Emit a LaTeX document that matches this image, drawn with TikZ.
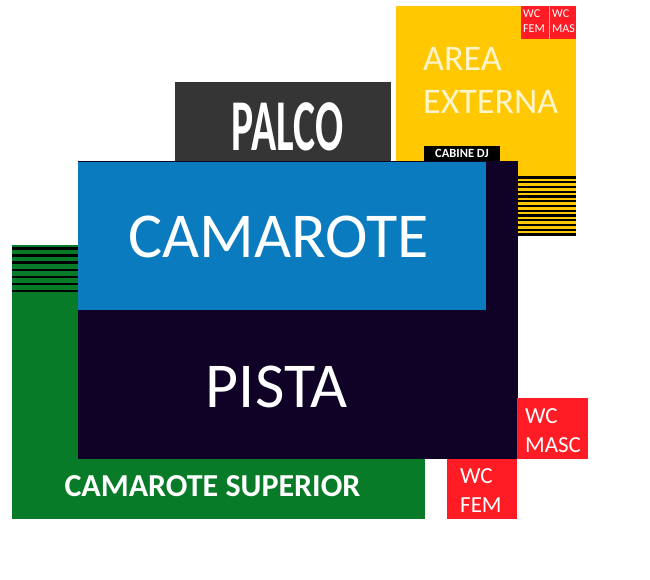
\documentclass[tikz,border=0pt]{standalone}
\usepackage{fontspec}
\setmainfont{Carlito}
\definecolor{areayellow}{HTML}{FFC800}
\definecolor{palcogray}{HTML}{353535}
\definecolor{camblue}{HTML}{0A7BBE}
\definecolor{pistanavy}{HTML}{0F0226}
\definecolor{supgreen}{HTML}{087B28}
\definecolor{wcred}{HTML}{FF1C24}
\definecolor{creamtext}{HTML}{FFF4CC}

\begin{document}
\begin{tikzpicture}[x=1pt,y=-1pt,
    area label/.style={text=white,inner sep=0pt,align=left}]
    \useasboundingbox (0,0) rectangle (650,580);

    % area externa and its stairs
    \fill[areayellow] (396,6) rectangle (576,236);
    \foreach \i in {0,...,12} {
        \draw[black,line width=2.2pt] (518,177.5+4.75*\i) -- (576,177.5+4.75*\i);
    }
    \fill[wcred] (521,6) rectangle (548.5,39);
    \fill[wcred] (549.5,6) rectangle (576,39);
    \node (wcfemtop) at (523,10) [area label,anchor=north west,
        font=\fontsize{12}{15}\selectfont] {WC\\FEM};
    \node (wcmastop) at (552,10) [area label,anchor=north west,
        font=\fontsize{12}{15}\selectfont] {WC\\MAS};
    \node (externa) at (423,47) [area label,text=creamtext,anchor=north west,
        font=\fontsize{36}{43}\selectfont] {AREA\\EXTERNA};

    % cabine dj
    \fill[black] (424,146) rectangle (500,161);
    \node (cabine) at (462,153.5) [area label,
        font=\bfseries\fontsize{12.5}{12.5}\selectfont] {CABINE DJ};

    % palco
    \fill[palcogray] (175,82) rectangle (391,161);
    \node (palco) at (287.5,126.5) [area label,xscale=0.57,
        font=\bfseries\fontsize{73}{73}\selectfont] {PALCO};

    % camarote superior and its stairs
    \fill[supgreen] (12,245) rectangle (425,519);
    \foreach \i in {0,...,6} {
        \draw[black,line width=2.6pt] (12,248.5+7.1*\i) -- (79,248.5+7.1*\i);
    }
    \node (superior) at (212.5,486) [area label,
        font=\bfseries\fontsize{32}{32}\selectfont] {CAMAROTE SUPERIOR};

    % pista and camarote
    \fill[pistanavy] (78,161) rectangle (518,458.5);
    \fill[camblue] (78,162) rectangle (486,310);
    \node (camarote) at (278.5,237) [area label,
        font=\fontsize{64}{64}\selectfont] {CAMAROTE};
    \node (pista) at (276.5,387) [area label,
        font=\fontsize{64}{64}\selectfont] {PISTA};

    % banheiros
    \fill[wcred] (517,398) rectangle (588,459);
    \fill[wcred] (447,459) rectangle (517,519);
    \node (wcmasc) at (525,408) [area label,anchor=north west,
        font=\fontsize{23}{29}\selectfont] {WC\\MASC};
    \node (wcfem) at (460,468) [area label,anchor=north west,
        font=\fontsize{23}{29}\selectfont] {WC\\FEM};
\end{tikzpicture}
\end{document}
